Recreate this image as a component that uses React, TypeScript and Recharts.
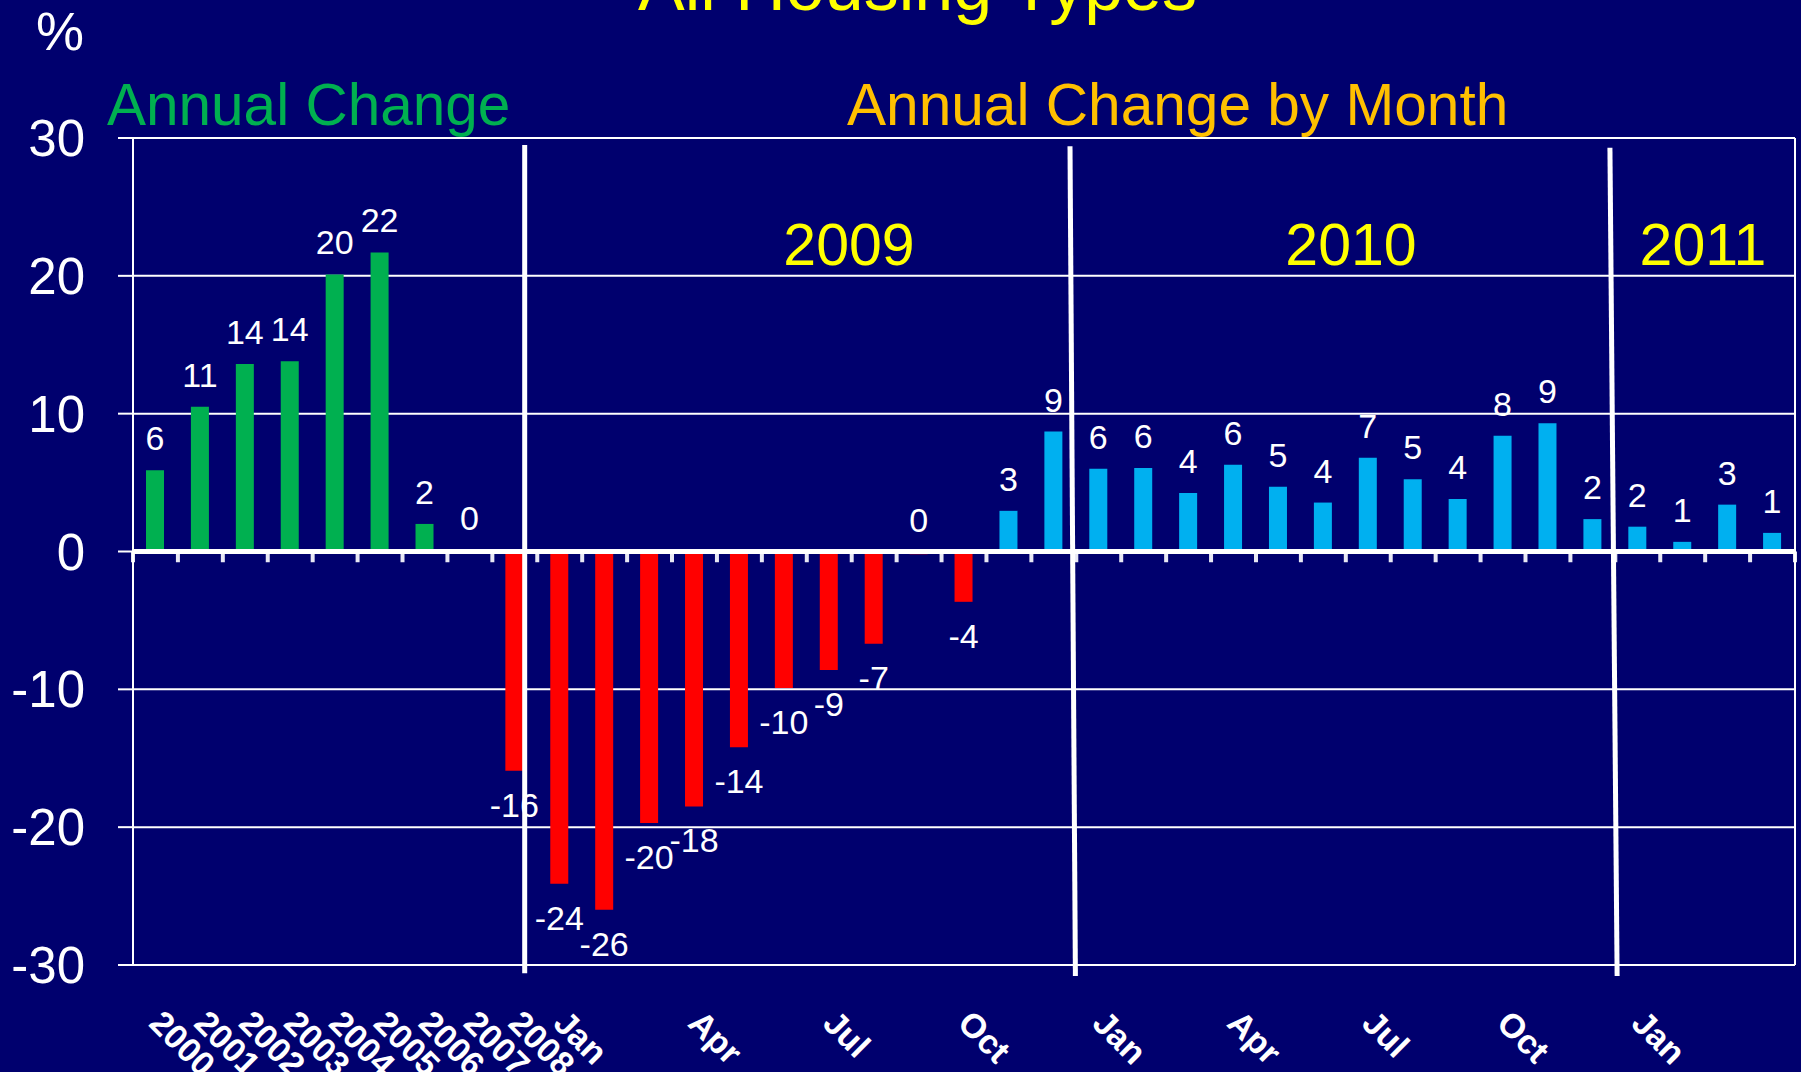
import { BarChart, Bar, XAxis, YAxis, CartesianGrid, ReferenceLine, LabelList, Cell } from 'recharts';

// annual figures, then monthly figures (% change on a year earlier)
const annualYears = ['2000', '2001', '2002', '2003', '2004', '2005', '2006', '2007', '2008'];
const annualChange = [5.9, 10.5, 13.6, 13.8, 20.1, 21.7, 2.0, 0.1, -15.9];

const months = ['Jan', 'Feb', 'Mar', 'Apr', 'May', 'Jun', 'Jul', 'Aug', 'Sep', 'Oct', 'Nov', 'Dec'];
const monthTicks = ['Jan', '', '', 'Apr', '', '', 'Jul', '', '', 'Oct', '', ''];
const ticks2011 = ['Jan', '', '', ''];
const change2009 = [-24.1, -26.0, -19.7, -18.5, -14.2, -9.9, -8.6, -6.7, -0.2, -3.65, 2.95, 8.7];
const change2010 = [6.0, 6.05, 4.25, 6.3, 4.7, 3.55, 6.8, 5.25, 3.8, 8.4, 9.3, 2.35];
const change2011 = [1.8, 0.7, 3.4, 1.35];

const yTicks = [-30, -20, -10, 0, 10, 20, 30];

// hand drawn year dividers, in category units / % units
const dividers = [
  { x1: 8.72, y1: 29.5, x2: 8.72, y2: -30.6 },
  { x1: 20.86, y1: 29.4, x2: 20.98, y2: -30.8 },
  { x1: 32.88, y1: 29.3, x2: 33.04, y2: -30.8 },
];

const NAVY = '#00006E';
const GREEN = '#00B050';
const RED = '#FF0000';
const BLUE = '#00B0F0';
const FONT = '"Liberation Sans", Arial, sans-serif';

type Row = { key: string; tick: string; value: number; annual: boolean; pos: number };

const rows = [
  ...annualYears.map((y, i) => ({ key: y, tick: y, value: annualChange[i], annual: true })),
  ...change2009.map((v, i) => ({ key: `${months[i]}-09`, tick: monthTicks[i], value: v, annual: false })),
  ...change2010.map((v, i) => ({ key: `${months[i]}-10`, tick: monthTicks[i], value: v, annual: false })),
  ...change2011.map((v, i) => ({ key: `${months[i]}-11`, tick: ticks2011[i], value: v, annual: false })),
];
// pos = centre of the category in category units, used by the helper number axis
const data: Row[] = rows.map((r, i) => ({ ...r, pos: i + 0.5 }));

const barColor = (r: Row) => (r.value < 0 ? RED : r.annual ? GREEN : BLUE);

const XTick = (props: any) => {
  const { x, y, payload } = props;
  const label = data[payload.index]?.tick;
  if (!label) return <g />;
  const px = x - 8;
  const py = y + 60;
  return (
    <text
      x={px}
      y={py}
      transform={`rotate(45 ${px} ${py})`}
      fill="#fff"
      fontSize={34}
      fontWeight="bold"
      fontFamily={FONT}
      textAnchor="start"
    >
      {label}
    </text>
  );
};

const renderLabel = (props: any) => {
  const { x, y, width, height, value } = props;
  const v = Number(value);
  const cx = Number(x) + Number(width) / 2;
  const top = Math.min(Number(y), Number(y) + Number(height));
  const bottom = Math.max(Number(y), Number(y) + Number(height));
  const ty = v <= -0.5 ? bottom + 46 : top - 20;
  return (
    <text x={cx} y={ty} textAnchor="middle" fill="#fff" fontSize={34} fontFamily={FONT}>
      {Math.round(v)}
    </text>
  );
};

const boundaries = Array.from({ length: data.length + 1 }, (_, i) => i);

export default function App() {
  return (
    <div style={{ position: 'absolute', left: 0, top: 0, width: 1801, height: 1072, background: NAVY, overflow: 'hidden' }}>
      <BarChart
        width={1801}
        height={1072}
        data={data}
        margin={{ top: 138, right: 6, left: 0, bottom: 0 }}
      >
        <CartesianGrid vertical={false} stroke="#fff" strokeWidth={2} />
        <XAxis
          dataKey="key"
          interval={0}
          height={107}
          tickSize={0}
          tickMargin={0}
          tickLine={false}
          axisLine={{ stroke: '#fff', strokeWidth: 2 }}
          tick={<XTick />}
        />
        <XAxis
          xAxisId="u"
          dataKey="pos"
          type="number"
          domain={[0, data.length]}
          allowDataOverflow
          padding={{ left: 0, right: 0 }}
          hide
        />
        <YAxis
          domain={[-30, 30]}
          ticks={yTicks}
          width={133}
          tickSize={15}
          tickMargin={33}
          axisLine={{ stroke: '#fff', strokeWidth: 2 }}
          tickLine={{ stroke: '#fff', strokeWidth: 2 }}
          tick={{ fill: '#fff', fontSize: 51, fontFamily: FONT }}
        />
        <Bar dataKey="value" barSize={18} isAnimationActive={false}>
          {data.map((r) => (
            <Cell key={r.key} fill={barColor(r)} />
          ))}
          <LabelList dataKey="value" content={renderLabel} />
        </Bar>
        {boundaries.map((b) => (
          <ReferenceLine
            key={`t${b}`}
            xAxisId="u"
            segment={[{ x: b, y: 0 }, { x: b, y: -0.78 }]}
            stroke="#e8e8f4"
            strokeWidth={4}
            ifOverflow="visible"
          />
        ))}
        <ReferenceLine y={0} stroke="#fff" strokeWidth={5} />
        <ReferenceLine xAxisId="u" x={data.length} stroke="#fff" strokeWidth={2} ifOverflow="visible" />
        {dividers.map((d, i) => (
          <ReferenceLine
            key={`d${i}`}
            xAxisId="u"
            segment={[{ x: d.x1, y: d.y1 }, { x: d.x2, y: d.y2 }]}
            stroke="#fff"
            strokeWidth={5}
            ifOverflow="visible"
          />
        ))}
      </BarChart>
      <svg width={1801} height={1072} style={{ position: 'absolute', left: 0, top: 0, pointerEvents: 'none' }}>
        <text x={638} y={10} fill="#FFFF00" fontSize={70} fontFamily={FONT}>All Housing Types</text>
        <text x={36} y={50} fill="#fff" fontSize={54} fontFamily={FONT}>%</text>
        <text x={107} y={125} fill={GREEN} fontSize={58.5} fontFamily={FONT}>Annual Change</text>
        <text x={847} y={125} fill="#FFC000" fontSize={58.6} fontFamily={FONT}>Annual Change by Month</text>
        <text x={849} y={265} fill="#FFFF00" fontSize={59} fontFamily={FONT} textAnchor="middle">2009</text>
        <text x={1351} y={265} fill="#FFFF00" fontSize={59} fontFamily={FONT} textAnchor="middle">2010</text>
        <text x={1703} y={265} fill="#FFFF00" fontSize={59} fontFamily={FONT} textAnchor="middle">2011</text>
      </svg>
    </div>
  );
}
